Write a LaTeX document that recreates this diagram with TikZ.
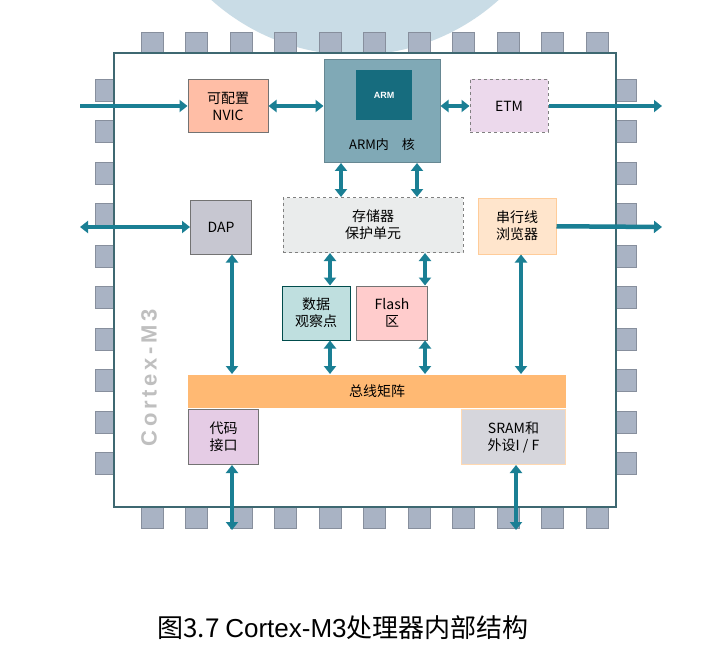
\documentclass[tikz,border=0pt]{standalone}
\usepackage{fontspec}
\setmainfont{Liberation Serif}
\newfontfamily\cjk{Noto Sans CJK SC}
\newfontfamily\capfont{Liberation Sans}
\usetikzlibrary{arrows.meta, positioning}
\definecolor{busteal}{HTML}{1A7F94}
\definecolor{pingrey}{HTML}{A9B3C4}
\definecolor{coreblue}{HTML}{80A9B6}
\definecolor{fanblue}{HTML}{C9DCE6}
\tikzstyle{block} = [
	rectangle,
	draw=black!55,
	line width=1pt,
	inner sep=0pt,
	align=center,
	font=\cjk\fontsize{14}{17}\selectfont
]
\tikzstyle{dblock} = [block, dashed, draw=black!50]
\tikzstyle{bus} = [busteal, line width=4.5pt, {Triangle[length=8pt,width=12pt]}-{Triangle[length=8pt,width=12pt]}]
\tikzstyle{busout} = [busteal, line width=4.5pt, -{Triangle[length=8pt,width=12pt]}]
\tikzstyle{pin} = [fill=pingrey, draw=pingrey!80!black, line width=0.6pt]
\begin{document}
\begin{tikzpicture}[x=1pt, y=-1pt]
		\useasboundingbox (0,0) rectangle (723,658);
		\fill[white] (0,0) rectangle (723,658);
		\begin{scope}
			\clip (0,0) rectangle (723,658);
			\fill[fanblue] (355,-160) circle (215);
		\end{scope}
		% pins
		\foreach \i in {0,...,10} {
			\filldraw[pin] (141+44.5*\i,32) rectangle ++(22,21);
			\filldraw[pin] (141+44.5*\i,507) rectangle ++(22,21);
		}
		\foreach \i in {0,...,9} {
			\filldraw[pin] (95,79+41.5*\i) rectangle ++(19,22);
			\filldraw[pin] (616,79+41.5*\i) rectangle ++(20,22);
		}
		\draw[fill=white, draw=black!30!busteal!60!gray, line width=2pt] (114,53) rectangle (616,507);
		\node (chip) [rotate=90, text=black!25, font=\capfont\bfseries\fontsize{22}{22}\selectfont] at (149,378) {C\,o\,r\,t\,e\,x\,-\,M\,3};

		\node (nvic) [block, fill=red!45!orange!35!white, minimum width=80pt, minimum height=53pt] at (228,106) {可配置\\NVIC};
		\node (core) [block, fill=coreblue, draw=coreblue!80!black, minimum width=116pt, minimum height=103pt] at (382,111) {};
		\node (logo) [fill=busteal!85!black, minimum width=56pt, minimum height=50pt, inner sep=0pt, text=white, font=\capfont\bfseries\fontsize{9}{9}\selectfont] at (384,95) {ARM};
		\node (corelbl) [font=\cjk\fontsize{13}{13}\selectfont] at (382,145) {ARM内\quad 核};
		\node (etm) [dblock, fill=violet!15!white, minimum width=78pt, minimum height=53pt] at (509,106) {ETM};
		\node (dap) [block, fill=blue!10!gray!40!white, minimum width=61pt, minimum height=54pt] at (221,227) {DAP};
		\node (mpu) [dblock, fill=teal!8!gray!15!white, minimum width=180pt, minimum height=55pt] at (373,225) {存储器\\保护单元};
		\node (swv) [block, fill=orange!20!white, draw=orange!40, minimum width=78pt, minimum height=56pt] at (517,226) {串行线\\浏览器};
		\node (dwt) [block, fill=teal!25!white, draw=teal!60!black, minimum width=68pt, minimum height=54pt] at (316,313) {数据\\观察点};
		\node (flash) [block, fill=red!20!white, minimum width=71pt, minimum height=54pt] at (392,313) {Flash\\区};
		\node (matrix) [block, draw=none, fill=orange!55!white, minimum width=378pt, minimum height=33pt] at (377,391) {总线矩阵};
		\node (icode) [block, fill=violet!20!white, minimum width=70pt, minimum height=55pt, anchor=north west] at (188,409) {代码\\接口};
		\node (sram) [block, fill=blue!8!gray!30!white, draw=orange!30, minimum width=104pt, minimum height=55pt, anchor=north east] at (566,409) {SRAM和\\外设I / F};

		\coordinate (nvicin) at (80,106);
		\coordinate (etmout) at (662,106);
		\coordinate (dapin) at (80,227);
		\coordinate (swvout) at (662,227);
		\coordinate (icodeout) at (232,530);
		\coordinate (sramout) at (516,530);

		\draw [busout] (nvicin) -- (nvic);
		\draw [bus] (nvic) -- (nvic -| core.west);
		\draw [bus] (etm -| core.east) -- (etm);
		\draw [busout] (etm) -- (etmout);
		\draw [bus] (dapin) -- (dap);
		\draw [busout] (swv) -- (swvout);
		\draw [bus] ([xshift=-41pt]core.south) -- ([xshift=-41pt]core.south |- mpu.north);
		\draw [bus] ([xshift=35pt]core.south) -- ([xshift=35pt]core.south |- mpu.north);
		\draw [bus] ([xshift=14pt]dwt.north |- mpu.south) -- ([xshift=14pt]dwt.north);
		\draw [bus] ([xshift=33pt]flash.north |- mpu.south) -- ([xshift=33pt]flash.north);
		\draw [bus] ([xshift=14pt]dwt.south) -- ([xshift=14pt]dwt.south |- matrix.north);
		\draw [bus] ([xshift=33pt]flash.south) -- ([xshift=33pt]flash.south |- matrix.north);
		\draw [bus] ([xshift=11pt]dap.south) -- ([xshift=11pt]dap.south |- matrix.north);
		\draw [bus] ([xshift=4pt]swv.south) -- ([xshift=4pt]swv.south |- matrix.north);
		\draw [bus] (icodeout |- icode.south) -- (icodeout);
		\draw [bus] (sramout |- sram.south) -- (sramout);

		\node (caption) [font=\cjk\fontsize{26}{26}\selectfont] at (343,628) {图3.7 {\capfont Cortex-M3}处理器内部结构};
	\end{tikzpicture}
\end{document}
